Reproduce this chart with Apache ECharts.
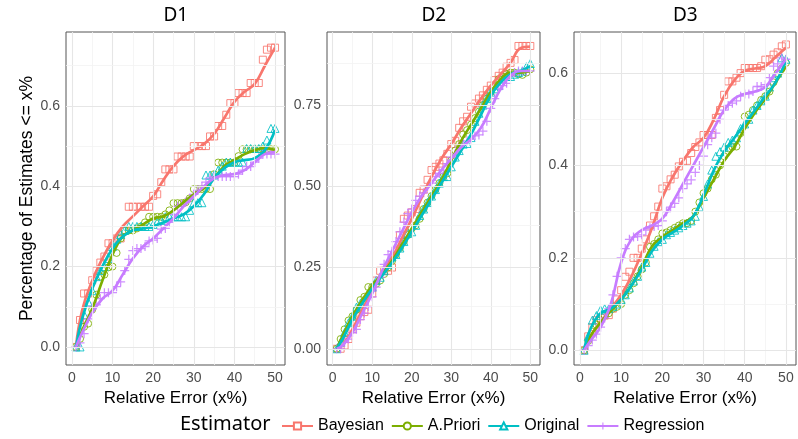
<!DOCTYPE html>
<html><head><meta charset="utf-8">
<script src="https://cdn.jsdelivr.net/npm/echarts@6/dist/echarts.min.js"></script>
<style>html,body{margin:0;padding:0;background:#fff}#c{width:798px;height:439px}</style>
</head><body><div id="c"></div><script>
const estimators = ['Bayesian', 'A.Priori', 'Original', 'Regression'];
const panels = ['D1', 'D2', 'D3'];
const xTicks = [0, 10, 20, 30, 40, 50];
const xMinorTicks = [5, 15, 25, 35, 45];
const yTicksD1 = [0, 0.2, 0.4, 0.6];
const yTicksD2 = [0, 0.25, 0.5, 0.75];
const yTicksD3 = [0, 0.2, 0.4, 0.6];
const yMinorD1 = [0.1, 0.3, 0.5, 0.7];
const yMinorD2 = [0.125, 0.375, 0.625, 0.875];
const yMinorD3 = [0.1, 0.3, 0.5];

const xPts = [1,2,3,4,5,6,7,8,9,10,11,12,13,14,15,16,17,18,19,20,21,22,23,24,25,26,27,28,29,30,31,32,33,34,35,36,37,38,39,40,41,42,43,44,45,46,47,48,49,50];
const xLine = [1,2.5,5,7.5,10,12.5,15,17.5,20,22.5,25,27.5,30,32.5,35,37.5,40,42.5,45,47.5,50];

// D1 points
const d1Bayesian = [0,0.067,0.133,0.133,0.166,0.19,0.21,0.225,0.258,0.258,0.27,0.27,0.29,0.349,0.349,0.349,0.349,0.349,0.349,0.376,0.38,0.41,0.442,0.442,0.442,0.474,0.474,0.474,0.474,0.5,0.5,0.5,0.5,0.524,0.524,0.55,0.55,0.578,0.607,0.607,0.632,0.632,0.632,0.657,0.657,0.657,0.715,0.74,0.745,0.745];
const d1APriori = [0,0.02,0.05,0.058,0.093,0.13,0.175,0.18,0.198,0.2,0.234,0.27,0.29,0.29,0.29,0.295,0.3,0.31,0.324,0.324,0.324,0.324,0.33,0.34,0.358,0.358,0.358,0.36,0.37,0.393,0.393,0.393,0.393,0.393,0.43,0.459,0.459,0.459,0.459,0.459,0.475,0.492,0.492,0.492,0.492,0.492,0.492,0.492,0.492,0.492];
const d1Original = [0,0,0.08,0.112,0.14,0.175,0.19,0.2,0.22,0.25,0.268,0.28,0.29,0.3,0.3,0.3,0.3,0.3,0.3,0.305,0.31,0.315,0.324,0.324,0.324,0.324,0.324,0.324,0.34,0.359,0.359,0.359,0.428,0.428,0.428,0.44,0.45,0.46,0.46,0.46,0.46,0.46,0.494,0.494,0.494,0.494,0.5,0.515,0.544,0.544];
const d1Regression = [0,0.01,0.033,0.07,0.1,0.105,0.12,0.135,0.135,0.135,0.15,0.162,0.19,0.218,0.24,0.245,0.245,0.25,0.264,0.266,0.27,0.293,0.295,0.31,0.33,0.35,0.355,0.36,0.37,0.38,0.39,0.4,0.41,0.42,0.424,0.424,0.424,0.424,0.424,0.424,0.43,0.44,0.449,0.449,0.46,0.47,0.48,0.48,0.48,0.48];
// D1 smoothed lines
const d1BayesianLine = [0,0.09,0.165,0.22,0.265,0.3,0.325,0.35,0.375,0.415,0.45,0.475,0.49,0.505,0.53,0.57,0.61,0.635,0.655,0.7,0.745];
const d1APrioriLine = [0,0.04,0.095,0.165,0.23,0.275,0.29,0.305,0.32,0.325,0.34,0.36,0.38,0.395,0.42,0.45,0.465,0.48,0.49,0.495,0.49];
const d1OriginalLine = [0,0.07,0.145,0.2,0.245,0.275,0.29,0.295,0.3,0.31,0.32,0.33,0.35,0.38,0.42,0.445,0.46,0.465,0.47,0.49,0.54];
const d1RegressionLine = [0,0.035,0.085,0.12,0.14,0.18,0.22,0.25,0.27,0.295,0.32,0.35,0.375,0.4,0.42,0.428,0.43,0.44,0.46,0.48,0.485];

// D2 points
const d2Bayesian = [0,0,0.01,0.03,0.06,0.08,0.1,0.113,0.12,0.17,0.21,0.24,0.24,0.24,0.25,0.3,0.35,0.4,0.41,0.42,0.43,0.48,0.49,0.52,0.55,0.56,0.57,0.58,0.6,0.63,0.64,0.68,0.7,0.714,0.745,0.755,0.77,0.78,0.797,0.81,0.827,0.84,0.85,0.868,0.88,0.889,0.932,0.932,0.932,0.932];
const d2APriori = [0,0.03,0.06,0.087,0.1,0.12,0.15,0.16,0.19,0.19,0.2,0.21,0.23,0.25,0.27,0.29,0.31,0.33,0.35,0.37,0.38,0.4,0.43,0.45,0.47,0.49,0.51,0.53,0.54,0.58,0.61,0.63,0.66,0.673,0.69,0.71,0.73,0.75,0.77,0.79,0.81,0.83,0.838,0.845,0.85,0.85,0.845,0.843,0.85,0.86];
const d2Original = [0,0.02,0.05,0.08,0.1,0.128,0.14,0.15,0.17,0.19,0.21,0.22,0.24,0.26,0.283,0.29,0.31,0.33,0.355,0.36,0.38,0.41,0.43,0.45,0.47,0.49,0.51,0.53,0.53,0.56,0.59,0.61,0.63,0.632,0.65,0.7,0.725,0.75,0.77,0.79,0.8,0.81,0.83,0.838,0.838,0.845,0.85,0.855,0.868,0.878];
const d2Regression = [0,0,0.02,0.03,0.05,0.06,0.09,0.11,0.13,0.16,0.19,0.22,0.26,0.29,0.3,0.33,0.36,0.39,0.416,0.43,0.457,0.47,0.48,0.5,0.51,0.53,0.54,0.55,0.57,0.59,0.6,0.62,0.63,0.64,0.645,0.655,0.658,0.67,0.7,0.74,0.77,0.8,0.81,0.817,0.84,0.85,0.855,0.855,0.855,0.855];
// D2 smoothed lines
const d2BayesianLine = [0,0.01,0.06,0.12,0.18,0.235,0.28,0.34,0.4,0.465,0.53,0.585,0.63,0.68,0.725,0.77,0.81,0.845,0.88,0.925,0.93];
const d2APrioriLine = [0,0.04,0.1,0.15,0.195,0.23,0.27,0.32,0.37,0.42,0.47,0.52,0.58,0.64,0.69,0.74,0.79,0.83,0.85,0.85,0.855];
const d2OriginalLine = [0,0.03,0.09,0.14,0.185,0.225,0.265,0.31,0.36,0.41,0.46,0.51,0.56,0.61,0.66,0.72,0.78,0.82,0.845,0.855,0.87];
const d2RegressionLine = [0,0.01,0.05,0.11,0.17,0.24,0.3,0.36,0.42,0.47,0.51,0.55,0.585,0.62,0.645,0.68,0.74,0.8,0.84,0.855,0.855];

// D3 points
const d3Bayesian = [0,0.03,0.05,0.065,0.07,0.075,0.076,0.09,0.11,0.13,0.159,0.17,0.2,0.2,0.22,0.24,0.27,0.29,0.311,0.35,0.355,0.37,0.38,0.398,0.408,0.41,0.427,0.44,0.45,0.466,0.466,0.466,0.503,0.52,0.553,0.582,0.582,0.59,0.6,0.611,0.611,0.611,0.611,0.615,0.629,0.63,0.64,0.645,0.658,0.662];
const d3APriori = [0,0.02,0.04,0.055,0.065,0.075,0.08,0.09,0.094,0.1,0.12,0.13,0.145,0.16,0.175,0.19,0.224,0.23,0.24,0.253,0.255,0.26,0.265,0.27,0.275,0.275,0.28,0.3,0.32,0.34,0.35,0.37,0.38,0.4,0.42,0.437,0.44,0.441,0.47,0.506,0.51,0.52,0.53,0.542,0.55,0.56,0.58,0.6,0.61,0.622];
const d3Original = [0,0.03,0.065,0.075,0.087,0.09,0.09,0.095,0.1,0.11,0.12,0.135,0.15,0.16,0.18,0.19,0.21,0.225,0.235,0.24,0.25,0.255,0.26,0.265,0.27,0.275,0.28,0.29,0.31,0.333,0.36,0.39,0.42,0.43,0.44,0.45,0.455,0.46,0.48,0.49,0.5,0.52,0.53,0.54,0.55,0.57,0.59,0.6,0.633,0.63];
const d3Regression = [0,0.01,0.022,0.035,0.05,0.07,0.09,0.12,0.16,0.2,0.22,0.24,0.245,0.246,0.25,0.26,0.265,0.268,0.27,0.28,0.3,0.31,0.318,0.33,0.35,0.36,0.369,0.385,0.4,0.42,0.445,0.46,0.47,0.5,0.52,0.53,0.535,0.54,0.55,0.555,0.555,0.56,0.571,0.571,0.575,0.59,0.615,0.62,0.633,0.63];
// D3 smoothed lines
const d3BayesianLine = [0,0.03,0.06,0.09,0.12,0.16,0.21,0.265,0.33,0.375,0.41,0.44,0.46,0.5,0.55,0.585,0.605,0.61,0.615,0.635,0.655];
const d3APrioriLine = [0,0.03,0.06,0.085,0.11,0.14,0.18,0.225,0.245,0.26,0.275,0.29,0.33,0.37,0.41,0.44,0.48,0.515,0.545,0.58,0.615];
const d3OriginalLine = [0,0.045,0.08,0.09,0.11,0.14,0.175,0.215,0.24,0.255,0.27,0.29,0.335,0.39,0.43,0.46,0.49,0.52,0.55,0.58,0.625];
const d3RegressionLine = [0,0.02,0.05,0.1,0.19,0.24,0.26,0.27,0.285,0.32,0.36,0.4,0.44,0.48,0.52,0.545,0.555,0.56,0.57,0.6,0.63];

const pointSets = [
  [d1Bayesian, d1APriori, d1Original, d1Regression],
  [d2Bayesian, d2APriori, d2Original, d2Regression],
  [d3Bayesian, d3APriori, d3Original, d3Regression]
];
const lineSets = [
  [d1BayesianLine, d1APrioriLine, d1OriginalLine, d1RegressionLine],
  [d2BayesianLine, d2APrioriLine, d2OriginalLine, d2RegressionLine],
  [d3BayesianLine, d3APrioriLine, d3OriginalLine, d3RegressionLine]
];
const yTickSets = [yTicksD1, yTicksD2, yTicksD3];
const yMinorSets = [yMinorD1, yMinorD2, yMinorD3];

// ---- styling / layout ----
const colors = ['#F8766D', '#7CAE00', '#00BFC4', '#C77CFF'];
const plusPath = 'path://M0,4.3H10V5.7H0Z M4.3,0H5.7V10H4.3Z';
const ptSymbols = ['rect', 'circle', 'triangle', plusPath];
const legSymbols = ['emptyRect', 'emptyCircle', 'emptyTriangle', plusPath];
const ptSizes = [7, 7, 8, 9];
const FONT = '"Liberation Sans", Arial, sans-serif';
const gridPos = [{left: 66, width: 219}, {left: 327, width: 213}, {left: 574, width: 222}];
const yRanges = [[-0.045, 0.784], [-0.05, 0.975], [-0.032, 0.689]];
const yDigits = [1, 2, 1];

const grids = [], xAxes = [], yAxes = [], series = [], graphics = [];
panels.forEach((p, i) => {
  grids.push({left: gridPos[i].left, width: gridPos[i].width, top: 32, height: 333,
    show: true, borderColor: '#555', borderWidth: 1, backgroundColor: '#fff'});
  xAxes.push({type: 'value', gridIndex: i, min: -1.45, max: 52.45,
    axisLine: {show: false}, splitLine: {show: false},
    axisTick: {show: true, length: 4, customValues: xTicks, lineStyle: {color: '#333', width: 1}},
    axisLabel: {customValues: xTicks, color: '#4D4D4D', fontSize: 14, fontFamily: FONT, margin: 6},
    name: 'Relative Error (x%)', nameLocation: 'middle', nameGap: 25,
    nameTextStyle: {color: '#000', fontSize: 17, fontFamily: FONT}});
  yAxes.push({type: 'value', gridIndex: i, min: yRanges[i][0], max: yRanges[i][1],
    axisLine: {show: false}, splitLine: {show: false},
    axisTick: {show: true, length: 4, customValues: yTickSets[i], lineStyle: {color: '#333', width: 1}},
    axisLabel: {customValues: yTickSets[i], color: '#4D4D4D', fontSize: 14, fontFamily: FONT, margin: 6,
      formatter: v => Number(v).toFixed(yDigits[i])},
    name: i === 0 ? 'Percentage of Estimates <= x%' : '', nameLocation: 'middle', nameGap: 29, nameRotate: 90,
    nameTextStyle: {color: '#000', fontSize: 17.5, fontFamily: FONT}});
  // grid lines
  const ml = [];
  xTicks.forEach(v => ml.push({xAxis: v, lineStyle: {color: '#E6E6E6', width: 1.1, type: 'solid'}}));
  xMinorTicks.forEach(v => ml.push({xAxis: v, lineStyle: {color: '#F2F2F2', width: 0.8, type: 'solid'}}));
  yTickSets[i].forEach(v => ml.push({yAxis: v, lineStyle: {color: '#E6E6E6', width: 1.1, type: 'solid'}}));
  yMinorSets[i].forEach(v => ml.push({yAxis: v, lineStyle: {color: '#F2F2F2', width: 0.8, type: 'solid'}}));
  series.push({type: 'line', name: 'grid' + i, xAxisIndex: i, yAxisIndex: i, data: [], z: 1, silent: true,
    markLine: {silent: true, symbol: ['none', 'none'], label: {show: false}, animation: false, data: ml}});
  graphics.push({type: 'text', left: gridPos[i].left + gridPos[i].width / 2 - 12, top: 6,
    style: {text: p, font: '19px "Noto Sans", "Open Sans", sans-serif', fill: '#000'}});
});

panels.forEach((p, i) => {
  estimators.forEach((e, k) => {
    series.push({type: 'line', name: e, xAxisIndex: i, yAxisIndex: i, smooth: 0.45,
      symbol: legSymbols[k], symbolSize: 7, showSymbol: false, z: 4, silent: true,
      lineStyle: {color: colors[k], width: 2.7}, itemStyle: {color: colors[k]},
      data: xLine.map((x, j) => [x, lineSets[i][k][j]])});
  });
});
panels.forEach((p, i) => {
  estimators.forEach((e, k) => {
    const isPlus = k === 3;
    series.push({type: 'scatter', name: e, xAxisIndex: i, yAxisIndex: i, z: 3, silent: true,
      symbol: ptSymbols[k], symbolSize: ptSizes[k],
      itemStyle: isPlus ? {color: colors[k], opacity: 0.85} : {color: 'rgba(0,0,0,0)', borderColor: colors[k], borderWidth: 1, opacity: 0.85},
      data: xPts.map((x, j) => [x, pointSets[i][k][j]])});
  });
});

graphics.push({type: 'text', left: 180, top: 414,
  style: {text: 'Estimator', font: '20px "Noto Sans", "Open Sans", sans-serif', fill: '#000'}});

const chart = echarts.init(document.getElementById('c'), null, {renderer: 'canvas'});
chart.setOption({
  animation: false,
  backgroundColor: '#fff',
  grid: grids, xAxis: xAxes, yAxis: yAxes, series: series,
  graphic: graphics,
  legend: {data: estimators, left: 281, top: 418, padding: 0, itemWidth: 31, itemHeight: 9, itemGap: 7,
    textStyle: {color: '#000', fontSize: 16, fontFamily: FONT}, selectedMode: false}
});
</script></body></html>
